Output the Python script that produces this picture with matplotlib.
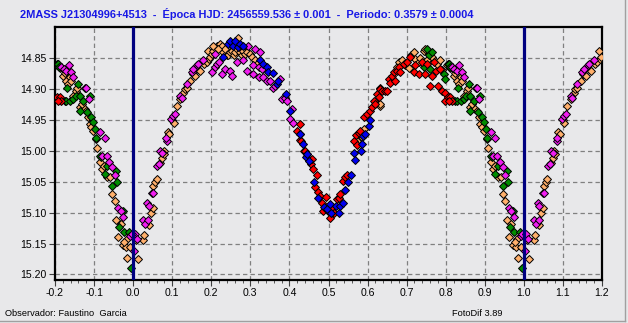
import numpy as np
import matplotlib
matplotlib.use('Agg')
import matplotlib.pyplot as plt
from matplotlib.lines import Line2D

# phase / magnitude per observing night (phases in 0..1)
orange_ph = [0.008, 0.013, 0.025, 0.028, 0.04, 0.045, 0.05, 0.052, 0.056, 0.06, 0.07, 0.075, 0.078, 0.08,
             0.088, 0.092, 0.1, 0.104, 0.111, 0.12, 0.128, 0.132, 0.137, 0.145, 0.152, 0.158, 0.167, 0.171,
             0.181, 0.188, 0.195, 0.197,
             0.192, 0.201, 0.205, 0.214, 0.222, 0.227, 0.231, 0.235, 0.24, 0.244, 0.248, 0.252, 0.257, 0.261,
             0.265, 0.269, 0.274, 0.278, 0.282, 0.286, 0.291, 0.299, 0.304, 0.312, 0.316, 0.205, 0.218,
             0.574, 0.579, 0.586, 0.59, 0.628, 0.632, 0.633,
             0.675, 0.68, 0.688, 0.697, 0.705, 0.71, 0.718, 0.722, 0.731, 0.735, 0.744, 0.748, 0.752, 0.756,
             0.765, 0.773, 0.778, 0.786, 0.79,
             0.804, 0.808, 0.812, 0.816, 0.821, 0.825, 0.829, 0.833, 0.838, 0.842, 0.846, 0.855, 0.856, 0.863,
             0.868, 0.876, 0.88, 0.885, 0.889, 0.893, 0.897, 0.906, 0.908, 0.916, 0.921, 0.925, 0.933, 0.942,
             0.947, 0.953, 0.957, 0.968, 0.962, 0.973, 0.981, 0.985, 0.983, 0.992, 0.977]
orange_mag = [15.145, 15.175, 15.145, 15.137, 15.12, 15.1, 15.093, 15.057, 15.05, 15.045, 15.02, 15.012, 15.0, 15.005,
              14.97, 14.973, 14.95, 14.955, 14.927, 14.916, 14.906, 14.9, 14.898, 14.887, 14.876, 14.879, 14.868, 14.871,
              14.86, 14.857, 14.852, 14.849,
              14.838, 14.843, 14.838, 14.83, 14.827, 14.83, 14.84, 14.835, 14.845, 14.846, 14.84, 14.838, 14.845, 14.841,
              14.836, 14.817, 14.841, 14.846, 14.838, 14.843, 14.841, 14.843, 14.849, 14.854, 14.86, 14.831, 14.836,
              14.985, 14.972, 14.978, 14.965, 14.924, 14.927, 14.924,
              14.865, 14.857, 14.854, 14.862, 14.866, 14.845, 14.841, 14.852, 14.857, 14.85, 14.838, 14.835, 14.854, 14.843,
              14.849, 14.855, 14.86, 14.853, 14.87,
              14.862, 14.86, 14.866, 14.865, 14.879, 14.875, 14.887, 14.892, 14.881, 14.887, 14.911, 14.903, 14.898, 14.93,
              14.925, 14.933, 14.935, 14.946, 14.957, 14.962, 14.968, 14.981, 14.995, 15.019, 15.03, 15.025, 15.042, 15.043,
              15.07, 15.081, 15.112, 15.119, 15.14, 15.152, 15.155, 15.173, 15.143, 15.155, 15.148]

green_ph = [0.752, 0.756, 0.744, 0.761, 0.765, 0.795, 0.799, 0.805, 0.808, 0.81, 0.831, 0.825, 0.829, 0.838,
            0.846, 0.853, 0.859, 0.863, 0.872, 0.889, 0.863, 0.882, 0.893, 0.897, 0.902, 0.906, 0.919, 0.916,
            0.933, 0.927, 0.956, 0.959, 0.947, 0.973, 0.964, 0.976, 0.99, 0.994]
green_mag = [14.835, 14.846, 14.865, 14.868, 14.84, 14.876, 14.884, 14.86, 14.86, 14.864, 14.898, 14.92, 14.92, 14.919,
             14.916, 14.911, 14.892, 14.911, 14.919, 14.911, 14.935, 14.938, 14.945, 14.954, 14.965, 14.98, 15.01, 15.008,
             15.024, 15.038, 15.033, 15.051, 15.057, 15.097, 15.123, 15.132, 15.131, 15.19]

magenta_ph = [0.005, 0.01, 0.003, 0.025, 0.03, 0.038, 0.035, 0.04, 0.048, 0.052, 0.062, 0.066, 0.07, 0.074,
              0.086, 0.084, 0.097, 0.103, 0.107, 0.12, 0.124, 0.137, 0.15, 0.154, 0.163, 0.167, 0.18,
              0.201, 0.209, 0.21, 0.214, 0.221, 0.227, 0.235, 0.248, 0.252, 0.265, 0.282, 0.291, 0.295, 0.308,
              0.308, 0.312, 0.321, 0.321, 0.325, 0.329, 0.333, 0.342, 0.351, 0.359, 0.363, 0.376, 0.381, 0.389,
              0.393, 0.402, 0.406, 0.41,
              0.816, 0.822, 0.829, 0.835, 0.842, 0.846, 0.877, 0.88, 0.886, 0.916, 0.927, 0.921, 0.932, 0.938,
              0.947, 0.953, 0.962, 0.968, 0.974, 0.992, 0.996]
magenta_mag = [15.135, 15.143, 15.162, 15.112, 15.118, 15.112, 15.085, 15.09, 15.068, 15.068, 15.024, 15.022, 15.0, 15.003,
               14.984, 14.98, 14.948, 14.944, 14.94, 14.912, 14.914, 14.892, 14.873, 14.868, 14.862, 14.86, 14.854,
               14.873, 14.865, 14.843, 14.86, 14.857, 14.876, 14.868, 14.871, 14.879, 14.857, 14.854, 14.871, 14.83, 14.876,
               14.862, 14.835, 14.865, 14.881, 14.841, 14.868, 14.881, 14.887, 14.887, 14.898, 14.895, 14.884, 14.916, 14.914,
               14.919, 14.949, 14.933, 14.956,
               14.864, 14.868, 14.871, 14.862, 14.873, 14.881, 14.898, 14.898, 14.916, 14.97, 14.98, 15.008, 15.008, 15.019,
               15.027, 15.04, 15.092, 15.098, 15.107, 15.138, 15.135]

red_ph = [0.419, 0.426, 0.427, 0.429, 0.438, 0.44, 0.445, 0.451, 0.455, 0.457, 0.46, 0.466, 0.47, 0.474, 0.479,
          0.483, 0.487, 0.494, 0.498, 0.504, 0.509, 0.513, 0.522, 0.526, 0.53, 0.537, 0.543, 0.547, 0.564, 0.57,
          0.574, 0.578, 0.581,
          0.59, 0.598, 0.607, 0.611, 0.616, 0.62, 0.624, 0.628, 0.632, 0.633, 0.637, 0.645, 0.65, 0.654, 0.658,
          0.663, 0.667, 0.671, 0.675, 0.68, 0.684, 0.692, 0.701, 0.709, 0.718, 0.722, 0.731, 0.739, 0.748, 0.752,
          0.759, 0.765, 0.769, 0.776, 0.78, 0.786, 0.791, 0.797, 0.799, 0.805, 0.812, 0.816, 0.808]
red_mag = [14.968, 14.957, 14.983, 14.984, 15.0, 15.0, 15.006, 15.015, 15.022, 15.013, 15.03, 15.059, 15.04, 15.067, 15.073,
           15.084, 15.097, 15.075, 15.097, 15.108, 15.091, 15.1, 15.078, 15.076, 15.07, 15.049, 15.042, 15.04, 14.984, 14.975,
           14.99, 14.972, 14.968,
           14.946, 14.941, 14.935, 14.93, 14.919, 14.925, 14.908, 14.913, 14.898, 14.9, 14.903, 14.903, 14.903, 14.884, 14.89,
           14.879, 14.873, 14.887, 14.871, 14.865, 14.873, 14.86, 14.857, 14.849, 14.873, 14.862, 14.876, 14.857, 14.876, 14.86,
           14.895, 14.879, 14.857, 14.871, 14.895, 14.868, 14.903, 14.906, 14.919, 14.913, 14.913, 14.92, 14.92]

blue_ph = [0.231, 0.244, 0.248, 0.256, 0.261, 0.269, 0.274, 0.282, 0.325, 0.333, 0.342, 0.346, 0.359, 0.368,
           0.372, 0.392, 0.402, 0.426, 0.427, 0.436, 0.443, 0.445, 0.451, 0.463, 0.474, 0.489, 0.495, 0.503, 0.507,
           0.52, 0.526, 0.53, 0.537, 0.543, 0.549, 0.557, 0.564, 0.569, 0.584, 0.588, 0.586, 0.594, 0.603, 0.607]
blue_mag = [14.849, 14.827, 14.822, 14.83, 14.822, 14.833, 14.828, 14.83, 14.854, 14.86, 14.865, 14.873, 14.875, 14.892,
            14.887, 14.908, 14.935, 14.973, 14.973, 14.989, 15.01, 15.005, 15.016, 15.051, 15.076, 15.091, 15.095, 15.086, 15.1,
            15.089, 15.101, 15.089, 15.084, 15.064, 15.051, 15.04, 15.004, 15.015, 15.001, 14.977, 14.989, 14.973, 14.96, 14.951]

xticks = np.round(np.arange(-0.2, 1.21, 0.1), 1)
yticks = np.round(np.arange(14.85, 15.201, 0.05), 2)

title = '2MASS J21304996+4513  -  Época HJD: 2456559.536 ± 0.001  -  Periodo: 0.3579 ± 0.0004'

plt.rcParams['font.family'] = ['Liberation Sans', 'DejaVu Sans']

bg = '#e8e8ea'
fig = plt.figure(figsize=(6.28, 3.23), dpi=100, facecolor=bg)
ax = fig.add_axes([55 / 628, 1 - 280 / 323, 547 / 628, 253 / 323], facecolor=bg)


def wrapped(ph, mag):
    # repeat the ends of the cycle so the plot runs from -0.2 to 1.2
    ph = np.asarray(ph)
    mag = np.asarray(mag)
    lo = ph > 0.8
    hi = ph < 0.2
    x = np.concatenate([ph, ph[lo] - 1, ph[hi] + 1])
    y = np.concatenate([mag, mag[lo], mag[hi]])
    return x, y


series = [
    (orange_ph, orange_mag, '#ffb06c'),
    (green_ph, green_mag, '#008c00'),
    (magenta_ph, magenta_mag, '#f01ef0'),
    (red_ph, red_mag, '#ff0000'),
    (blue_ph, blue_mag, '#0000f0'),
]
for ph, mag, col in series:
    x, y = wrapped(ph, mag)
    ax.plot(x, y, linestyle='none', marker='D', markersize=4.4, markerfacecolor=col,
            markeredgecolor='black', markeredgewidth=0.7, zorder=3)

for xv in (0.0, 1.0):
    ax.axvline(xv, color='#000080', linewidth=2.3, zorder=4)

ax.set_xlim(-0.2, 1.2)
ax.set_ylim(15.209, 14.80)
ax.set_xticks(xticks)
ax.set_xticklabels(['%.1f' % v for v in xticks])
ax.set_xticks(np.arange(-0.2, 1.201, 0.02), minor=True)
ax.set_yticks(yticks)
ax.set_yticklabels(['%.2f' % v for v in yticks])

ax.grid(True, color='#808080', linestyle=(0, (3.5, 2.5)), linewidth=0.9)
ax.set_axisbelow(True)
ax.tick_params(axis='both', which='major', labelsize=7.6, length=4, width=0.8, color='#404040', pad=2)
ax.tick_params(axis='x', which='minor', length=2.5, width=0.6, color='#404040')
for s in ax.spines.values():
    s.set_linewidth(1.6)
    s.set_color('black')

fig.text(20 / 628, 1 - 14 / 323, title, ha='left', va='center', color='#1818e6',
         fontweight='bold', fontsize=7.9)
fig.text(5 / 628, 1 - 313 / 323, 'Observador: Faustino  Garcia', ha='left', va='center', fontsize=6.7)
fig.text(502 / 628, 1 - 313 / 323, 'FotoDif 3.89', ha='right', va='center', fontsize=6.7)

# window frame on the right and bottom edges
fig.add_artist(Line2D([625 / 628, 625 / 628], [2 / 323, 1], transform=fig.transFigure, color='#a0a0a0', linewidth=1))
fig.add_artist(Line2D([0, 625 / 628], [2 / 323, 2 / 323], transform=fig.transFigure, color='#a0a0a0', linewidth=1))

fig.savefig('out.png', dpi=100, facecolor=bg)
